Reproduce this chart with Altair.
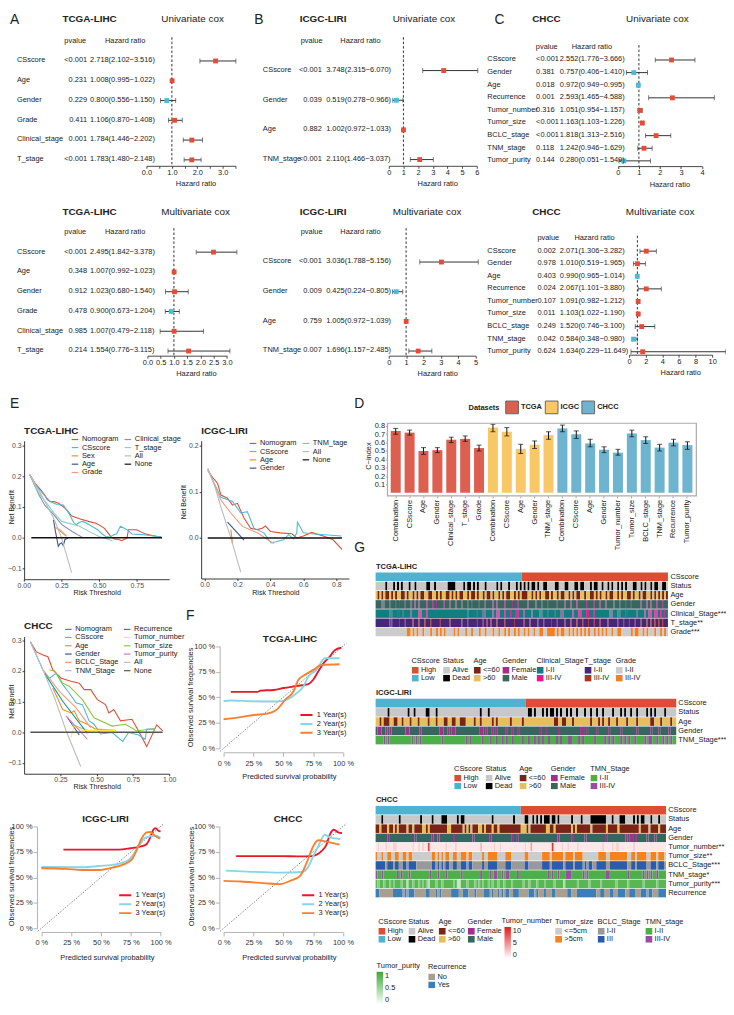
import altair as alt
import pandas as pd

W, H = 726, 999
FONT = "Liberation Sans"
RED, BLUE = "#E64B35", "#4DBBD5"
TXT = "#222222"


def P(v):
    return v - 8


# ---------- forest data ----------
A_NAMES = ["CSscore", "Age", "Gender", "Grade", "Clinical_stage", "T_stage"]
A_UNI_P = ["<0.001", "0.231", "0.229", "0.411", "0.001", "<0.001"]
A_UNI_HR = [2.718, 1.008, 0.800, 1.106, 1.784, 1.783]
A_UNI_LO = [2.102, 0.995, 0.556, 0.870, 1.446, 1.480]
A_UNI_HI = [3.516, 1.022, 1.150, 1.408, 2.202, 2.148]
A_MUL_P = ["<0.001", "0.348", "0.912", "0.478", "0.985", "0.214"]
A_MUL_HR = [2.495, 1.007, 1.023, 0.900, 1.007, 1.554]
A_MUL_LO = [1.842, 0.992, 0.680, 0.673, 0.479, 0.776]
A_MUL_HI = [3.378, 1.023, 1.540, 1.204, 2.118, 3.115]
B_NAMES = ["CSscore", "Gender", "Age", "TNM_stage"]
B_UNI_P = ["<0.001", "0.039", "0.882", "<0.001"]
B_UNI_HR = [3.748, 0.519, 1.002, 2.110]
B_UNI_LO = [2.315, 0.278, 0.972, 1.466]
B_UNI_HI = [6.070, 0.966, 1.033, 3.037]
B_MUL_P = ["<0.001", "0.009", "0.759", "0.007"]
B_MUL_HR = [3.036, 0.425, 1.005, 1.696]
B_MUL_LO = [1.788, 0.224, 0.972, 1.157]
B_MUL_HI = [5.156, 0.805, 1.039, 2.485]
C_NAMES = ["CSscore", "Gender", "Age", "Recurrence", "Tumor_number", "Tumor_size",
           "BCLC_stage", "TNM_stage", "Tumor_purity"]
C_UNI_P = ["<0.001", "0.381", "0.018", "0.001", "0.316", "<0.001", "<0.001", "0.118", "0.144"]
C_UNI_HR = [2.552, 0.757, 0.972, 2.593, 1.051, 1.163, 1.818, 1.242, 0.280]
C_UNI_LO = [1.776, 0.406, 0.949, 1.465, 0.954, 1.103, 1.313, 0.946, 0.051]
C_UNI_HI = [3.666, 1.410, 0.995, 4.588, 1.157, 1.226, 2.516, 1.629, 1.549]
C_MUL_P = ["0.002", "0.978", "0.403", "0.024", "0.107", "0.011", "0.249", "0.042", "0.624"]
C_MUL_HR = [2.071, 1.010, 0.990, 2.067, 1.091, 1.103, 1.520, 0.584, 1.634]
C_MUL_LO = [1.306, 0.519, 0.965, 1.101, 0.982, 1.022, 0.746, 0.348, 0.229]
C_MUL_HI = [3.282, 1.965, 1.014, 3.880, 1.212, 1.190, 3.100, 0.980, 11.649]

# ---------- DCA data ----------
DCA_TCGA = {
    "Nomogram": [(.04, .205), (.077, .176), (.105, .16), (.132, .144), (.155, .125), (.175, .117), (.2, .118), (.23, .112),
                 (.25, .105), (.273, .096), (.295, .085), (.316, .071), (.345, .066), (.38, .06), (.43, .053), (.478, .047),
                 (.505, .04), (.533, .031), (.555, .018), (.576, .004), (.6, -.004), (.63, -.006), (.65, -.01), (.685, -.001),
                 (.695, .026), (.75, .026), (.78, .018), (.804, .013), (.85, .007), (.89, .004), (.913, .002)],
    "CSscore": [(.04, .205), (.077, .172), (.132, .14), (.175, .118), (.22, .108), (.262, .106), (.285, .09), (.305, .074),
                (.33, .05), (.349, .042), (.37, .05), (.392, .053), (.435, .042), (.49, .026), (.52, .012), (.544, .004),
                (.575, .002), (.598, .01), (.615, .012), (.641, .037), (.685, .026), (.718, .012), (.783, .01), (.913, .002)],
    "Sex": [(.218, .031), (.25, .018), (.283, .004)],
    "Age": [(.197, .058), (.21, .02), (.229, -.028), (.24, -.02), (.251, -.017), (.262, -.026), (.273, -.006), (.294, -.001)],
    "Grade": [(.207, .034), (.24, .026), (.283, .006)],
    "Clinical_stage": [(.04, .205), (.1, .14), (.14, .105), (.19, .08), (.251, .043), (.32, .02), (.392, 0)],
    "T_stage": [(.04, .205), (.1, .145), (.153, .112), (.2, .08), (.251, .053), (.37, .037), (.44, .018), (.5, .004), (.588, -.01)],
    "All": [(.04, .205), (.12, .136), (.197, .065), (.25, .0), (.317, -.114)],
    "None": [(.05, 0), (.917, 0)],
}
DCA_ICGC = {
    "Nomogram": [(.02, .146), (.05, .131), (.08, .118), (.1, .093), (.14, .086), (.17, .071), (.2, .075), (.24, .043), (.28, .021),
                 (.32, .018), (.35, .021), (.37, .026), (.4, .014), (.46, .011), (.53, .009), (.56, 0), (.6, .004), (.65, .012),
                 (.72, .004), (.78, -.004), (.834, -.025)],
    "CSscore": [(.02, .15), (.06, .118), (.1, .088), (.17, .079), (.22, .054), (.26, .057), (.3, .021), (.36, .011), (.404, -.011),
                (.48, -.004), (.51, .007), (.54, -.002), (.56, .011), (.564, .034), (.6, .011), (.65, .009), (.83, .004)],
    "Age": [(.16, .018), (.17, -.011)],
    "Gender": [(.14, .034), (.24, -.005)],
    "TNM_tage": [(.02, .15), (.1, .082), (.16, .054), (.23, .025), (.32, .011), (.42, -.012)],
    "All": [(.02, .15), (.06, .115), (.1, .067), (.16, .0), (.22, -.074)],
    "None": [(.02, 0), (.834, 0)],
}
DCA_CHCC = {
    "Nomogram": [(.043, .295), (.084, .262), (.13, .252), (.164, .246), (.198, .203), (.255, .176), (.323, .166), (.38, .16),
                 (.414, .139), (.459, .139), (.505, .106), (.561, .09), (.584, .063), (.618, .074), (.664, .037), (.743, .042),
                 (.789, .004), (.845, -.047), (.914, .024), (.955, .004)],
    "CSscore": [(.043, .295), (.13, .203), (.175, .176), (.22, .192), (.266, .155), (.311, .128), (.357, .096), (.402, .09),
                (.448, .037), (.482, .026), (.527, -.006), (.607, -.001), (.68, -.03), (.72, -.001), (.789, -.009), (.834, -.023),
                (.845, .01), (.902, .01)],
    "Age": [(.198, .144), (.266, .074), (.323, .063), (.345, .07), (.38, .037), (.436, .026), (.493, .01), (.63, .006)],
    "Gender": [(.3, .047), (.38, -.009)],
    "BCLC_Stage": [(.13, .203), (.243, .133), (.357, .08), (.459, .015)],
    "TNM_Stage": [(.323, .026), (.448, .004)],
    "Recurrence": [(.141, .192), (.266, .101), (.436, -.004)],
    "Tumor_number": [(.323, -.017), (.345, .02), (.402, .006), (.63, .006)],
    "Tumor_size": [(.175, .203), (.21, .2), (.266, .16), (.311, .15), (.402, .106), (.482, .047), (.607, .02), (.698, .026),
                   (.777, .004), (.902, .012)],
    "Tumor_purity": [(.289, .053), (.436, -.023)],
    "All": [(.043, .295), (.13, .203), (.21, .112), (.29, .004), (.39, -.112)],
    "None": [(.043, 0), (.955, 0)],
}
TCGA_COLORS = ["#E64B35", "#4DBBD5", "#F28E2B", "#3C5488", "#F39B7F", "#8491B4", "#91D1C2", "#BBBBBB", "#111111"]
ICGC_COLORS = ["#E64B35", "#4DBBD5", "#F28E2B", "#3C5488", "#F39B7F", "#BBBBBB", "#111111"]
CHCC_COLORS = ["#E64B35", "#4DBBD5", "#F28E2B", "#3C5488", "#F39B7F", "#B0B7D4", "#00A087", "#FFE94D", "#8DC63F", "#C77CBB",
               "#BBBBBB", "#555555"]

# ---------- calibration data ----------
CAL_TCGA = {
    "1 Year(s)": [(.06, .552), (.282, .552), (.31, .565), (.42, .571), (.503, .59), (.613, .61), (.71, .629), (.751, .671), (.793, .752),
                  (.848, .848), (.89, .897), (.931, .961), (.986, .984)],
    "2 Year(s)": [(0, .461), (.06, .468), (.227, .461), (.448, .458), (.53, .477), (.613, .542), (.669, .606), (.71, .703), (.779, .768),
                  (.848, .881), (.972, .881)],
    "3 Year(s)": [(0, .284), (.144, .306), (.254, .326), (.365, .339), (.448, .381), (.517, .477), (.586, .558), (.627, .671), (.682, .719),
                  (.751, .768), (.82, .816), (.972, .823)],
}
CAL_ICGC = {
    "1 Year(s)": [(.185, .773), (.649, .773), (.746, .786), (.843, .806), (.884, .828), (.912, .887), (.939, .968), (.959, .984), (.981, .958),
                  (1, .951)],
    "2 Year(s)": [(0, .602), (.345, .599), (.483, .612), (.622, .628), (.718, .66), (.773, .725), (.815, .806), (.87, .887), (.953, .909),
                  (1, .887)],
    "3 Year(s)": [(0, .589), (.207, .583), (.345, .573), (.483, .573), (.594, .595), (.691, .628), (.76, .676), (.801, .773), (.843, .887),
                  (.884, .942), (.912, .945), (.953, .909), (.994, .88)],
}
CAL_CHCC = {
    "1 Year(s)": [(.105, .709), (.503, .709), (.613, .706), (.738, .709), (.82, .757), (.862, .822), (.89, .919), (.923, .968), (.959, .942),
                  (.992, .935)],
    "2 Year(s)": [(.017, .566), (.199, .557), (.475, .547), (.655, .553), (.71, .605), (.751, .709), (.793, .806), (.848, .919), (.903, .887),
                  (.978, .877)],
    "3 Year(s)": [(0, .466), (.144, .46), (.337, .443), (.475, .434), (.558, .466), (.641, .515), (.696, .644), (.751, .806), (.793, .864),
                  (.848, .854), (.972, .822)],
}
DIAGONAL = [-0.03, 1.03]

# ---------- C-index data ----------
D_GROUP = ["TCGA"] * 7 + ["ICGC"] * 5 + ["CHCC"] * 10
D_NAMES = ["Combination", "CSscore", "Age", "Gender", "Clinical_stage", "T_stage", "Grade",
           "Combination", "CSscore", "Age", "Gender", "TNM_stage",
           "Combination", "CSscore", "Age", "Gender", "Tumor_number", "Tumor_size", "BCLC_stage", "TNM_stage", "Recurrence", "Tumor_purity"]
D_VALUE = [.74, .72, .50, .51, .635, .645, .535, .78, .73, .525, .575, .69, .77, .70, .59, .515, .48, .71, .63, .54, .60, .57]
D_LOW = [.70, .69, .46, .48, .60, .615, .50, .73, .68, .47, .53, .64, .73, .65, .55, .48, .45, .67, .59, .50, .56, .52]
D_HIGH = [.77, .75, .54, .54, .665, .68, .57, .82, .78, .58, .62, .73, .81, .74, .64, .55, .52, .75, .67, .58, .64, .61]

# ---------- heatmap data: positions (of 150 slots) holding the less common class ----------
SLOTS = 150
N = SLOTS * 2
T_STATUS = [5, 9, 11, 13, 17, 20, 26, 27, 30, 37, 38, 39, 40, 45, 47, 48, 50, 52, 56, 62, 64, 68, 72, 74, 76, 78, 80, 81, 83, 86, 87, 92, 93,
            97, 98, 102, 103, 105, 106, 110, 112, 113, 116, 119, 121, 124, 126, 128, 132, 133, 136, 138, 141, 143, 144, 147, 148]
T_AGE = [1, 3, 5, 6, 8, 10, 13, 14, 16, 19, 21, 23, 24, 27, 28, 31, 33, 36, 37, 39, 41, 43, 44, 47, 49, 50, 52, 55, 57, 58, 60, 63, 65, 67, 68,
         71, 73, 75, 76, 77, 80, 82, 84, 87, 88, 90, 93, 95, 96, 99, 101, 103, 104, 107, 110, 111, 113, 115, 118, 120, 121, 124, 126, 129,
         130, 132, 135, 137, 138, 141, 143, 145, 147, 149]
T_GENDER = [3, 4, 7, 10, 12, 15, 18, 20, 22, 26, 29, 31, 35, 38, 41, 44, 47, 49, 53, 56, 60, 62, 66, 70, 73, 78, 82, 85, 88, 93, 97, 100, 103,
            108, 112, 115, 118, 122, 125, 128, 131, 136, 139, 141, 144, 147]
T_CLIN = [7, 8, 11, 12, 14, 18, 22, 23, 26, 47, 52, 55, 56, 60, 62, 63, 66, 69, 72, 73, 76, 80, 84, 85, 88, 92, 95, 96, 101, 104, 105, 108, 109,
          112, 120, 121, 124, 125, 128, 129, 134, 138, 140, 141, 143, 144, 146, 148]
T_TSTAGE = [7, 8, 12, 15, 19, 22, 25, 28, 33, 38, 44, 47, 52, 55, 57, 59, 62, 66, 71, 76, 79, 83, 86, 90, 93, 97, 100, 103, 106, 109, 112, 115,
            119, 124, 127, 130, 133, 136, 139, 141, 143, 145, 147]
T_GRADE = [16, 17, 19, 21, 24, 28, 31, 33, 35, 40, 42, 46, 49, 53, 56, 60, 63, 66, 68, 71, 73, 76, 78, 81, 84, 85, 88, 89, 90, 91, 93, 95, 96,
           99, 101, 103, 105, 107, 109, 112, 114, 116, 118, 121, 124, 125, 131, 133, 134, 137, 139, 143, 146, 148]

I_STATUS = [6, 16, 19, 25, 26, 30, 52, 56, 76, 77, 79, 83, 85, 87, 88, 90, 92, 95, 97, 100, 104, 107, 110, 113, 118, 122, 124, 127, 130, 135,
            137, 139, 144]
I_AGE = [2, 4, 5, 6, 9, 10, 13, 17, 21, 26, 30, 34, 35, 38, 39, 42, 43, 44, 49, 52, 58, 60, 67, 73, 89, 90, 93, 94, 98, 107, 111, 113, 116, 120,
         125, 130, 137, 138, 142, 147]
I_GENDER = [1, 2, 5, 7, 15, 16, 22, 32, 33, 36, 38, 39, 52, 53, 55, 58, 60, 65, 68, 71, 82, 85, 91, 102, 103, 105, 110, 116, 122, 130, 137, 141,
            146]
I_TNM = [4, 6, 18, 20, 22, 33, 45, 47, 53, 57, 60, 63, 65, 68, 73, 76, 79, 81, 83, 86, 90, 92, 96, 97, 101, 103, 109, 114, 116, 118, 122, 124,
         126, 129, 134, 136, 137, 140, 143, 145, 147]

C_STATUS = [3, 12, 23, 29, 34, 35, 36, 42, 44, 45, 60, 71, 77, 78, 81, 83, 85, 87, 88, 89, 91, 92, 94, 101, 106, 111, 112, 113, 114, 115, 116, 117,
            118, 122, 126, 127, 128, 133, 135, 137, 138, 142, 146]
C_AGE = [2, 6, 9, 11, 16, 19, 24, 25, 27, 37, 38, 45, 47, 49, 53, 54, 56, 60, 63, 75, 76, 77, 79, 88, 89, 92, 101, 103, 111, 119, 125, 136, 141,
         146]
C_GENDER = [6, 20, 29, 32, 40, 50, 59, 70, 73, 94, 101, 108, 119, 129, 131, 132, 134, 140, 144]
C_NUM_IDX = [1, 5, 9, 10, 19, 22, 24, 27, 36, 41, 54, 61, 64, 77, 80, 91, 96, 99, 104, 117, 122, 124, 125, 133]
C_NUM_VAL = [2, 2, 2, 2, 2, 2, 2, 8, 2, 2, 3, 2, 2, 2, 4, 9, 2, 2, 2, 2, 2, 2, 2, 2]
C_SIZE = [0, 3, 6, 7, 10, 11, 14, 15, 17, 18, 29, 30, 32, 34, 36, 37, 40, 41, 44, 45, 46, 48, 49, 55, 58, 59, 60, 61, 62, 67, 68, 69, 77, 78, 86,
          87, 88, 89, 91, 92, 93, 94, 95, 96, 98, 99, 100, 101, 103, 104, 105, 106, 115, 116, 117, 118, 121, 122, 123, 124, 125, 126, 127,
          128, 129, 132, 133, 135, 136, 137, 138, 139, 142, 143, 144, 146, 147, 148]
C_BCLC = [5, 9, 12, 13, 16, 21, 22, 23, 24, 25, 26, 27, 28, 31, 33, 35, 38, 39, 42, 43, 47, 50, 51, 52, 53, 54, 56, 57, 63, 64, 65, 66, 70, 71, 72,
          73, 74, 75, 76, 79, 80, 81, 82, 83, 84, 85, 90, 97, 102, 107, 109, 112, 113, 119, 120, 130, 131, 134, 140, 141, 145, 149]
C_TNM = [0, 3, 11, 13, 17, 28, 32, 36, 44, 54, 59, 61, 62, 65, 67, 68, 73, 89, 91, 94, 98, 99, 100, 107, 109, 119, 120, 130, 138, 140, 142, 145]
C_PUR_IDX = [1, 4, 7, 9, 13, 16, 19, 22, 24, 26, 27, 31, 34, 40, 42, 43, 47, 51, 53, 55, 58, 60, 63, 66, 70, 76, 79, 83, 87, 92, 97, 104, 110,
             116, 124, 130, 138, 145]
C_PUR_VAL = [.6, .6, .6, .6, .6, .35, .6, .6, .6, .6, .35, .6, .6, .6, .3, .3, .6, .6, .6, .6, .6, .6, .6, .6, .6, .6, .6, .6, .6, .6, .4, .6, .6,
             .6, .6, .6, .6, .6]
C_REC = [0, 1, 9, 10, 11, 12, 13, 15, 17, 18, 19, 26, 27, 31, 33, 39, 40, 41, 42, 45, 46, 47, 51, 56, 57, 58, 60, 63, 65, 67, 68, 71, 72, 73, 79,
         80, 81, 83, 87, 91, 92, 99, 100, 104, 105, 106, 107, 108, 109, 110, 111, 112, 113, 116, 117, 121, 122, 125, 126, 127, 128, 131, 132,
         133, 137, 138, 139, 141, 142, 146, 147, 148, 149]


def T(text, x, y, size=7.5, weight="normal", align="left", color=TXT):
    return alt.Chart(alt.InlineData(values=[{"t": text}])).mark_text(
        align=align, baseline="middle", fontSize=size, fontWeight=weight, color=color, font=FONT
    ).encode(x=alt.value(P(x)), y=alt.value(P(y)), text="t:N")


def xaxis(ay, title=None, tx=0, ty=0, fs=7.5, color=TXT, dom="#333333", tick=2.5, pad=0, tfs=7.5, **kw):
    d = dict(orient="bottom", offset=P(ay) - H, grid=False, labelFontSize=fs, labelColor=color, domainColor=dom, tickColor=dom,
             tickSize=tick, labelPadding=pad, labelOverlap=False, labelFlush=False, domainWidth=0.9, tickWidth=0.9)
    if title:
        d.update(title=title, titleX=P(tx), titleY=ty - ay, titleFontSize=tfs, titleFontWeight="normal", titleColor=TXT,
                 titleBaseline="middle", titleAlign="center", titleAngle=0)
    else:
        d.update(title=None)
    d.update(kw)
    return alt.Axis(**d)


def yaxis(ax, title=None, tx=0, ty=0, fs=7.5, color=TXT, dom="#333333", tick=2.5, pad=1, tfs=7.5, **kw):
    d = dict(orient="left", offset=-P(ax), grid=False, labelFontSize=fs, labelColor=color, domainColor=dom, tickColor=dom,
             tickSize=tick, labelPadding=pad, labelOverlap=False, labelFlush=False, domainWidth=0.9, tickWidth=0.9)
    if title:
        d.update(title=title, titleX=tx - ax, titleY=P(ty), titleFontSize=tfs, titleFontWeight="normal", titleColor=TXT,
                 titleBaseline="middle", titleAlign="center", titleAngle=270)
    else:
        d.update(title=None)
    d.update(kw)
    return alt.Axis(**d)


def forest(names, pv, hr, lo, hi, dom, rng, ticks, label_expr, ay, ry, dash, cols, p_align, heads, tcenter):
    df = pd.DataFrame({"name": names, "p": pv, "hr": hr, "lo": lo, "hi": hi})
    df["txt"] = [f"{a:.3f}({b:.3f}\u2212{c:.3f})" for a, b, c in zip(hr, lo, hi)]
    xs = alt.Scale(domain=dom, range=[P(rng[0]), P(rng[1])], nice=False, zero=False)
    ys = alt.Scale(type="point", domain=names, range=[P(ry[0]), P(ry[1])], padding=0)
    ax = xaxis(ay, "Hazard ratio", tcenter, ay + 18.4, values=ticks, labelExpr=label_expr)
    Y = alt.Y("name:N", scale=ys, axis=None, sort=None)
    base = alt.Chart(df)
    x_hr = alt.X("hr:Q", scale=xs, axis=ax)
    layers = [
        alt.Chart(pd.DataFrame({"v": [1.0]})).mark_rule(strokeDash=[2.5, 2], color="#333333", strokeWidth=1).encode(
            x=alt.X("v:Q", scale=xs, axis=ax), y=alt.value(P(dash[0])), y2=alt.value(P(dash[1]))),
        base.mark_rule(color="#333333", strokeWidth=1).encode(x=alt.X("lo:Q", scale=xs, axis=ax), x2="hi:Q", y=Y),
        base.mark_tick(orient="vertical", size=5, thickness=0.9, color="#333333").encode(x=alt.X("lo:Q", scale=xs, axis=ax), y=Y),
        base.mark_tick(orient="vertical", size=5, thickness=0.9, color="#333333").encode(x=alt.X("hi:Q", scale=xs, axis=ax), y=Y),
        base.mark_square(size=24, opacity=1).encode(
            x=x_hr, y=Y, color=alt.condition("datum.hr < 1", alt.value(BLUE), alt.value(RED))),
        base.mark_text(align="left", baseline="middle", fontSize=7.5, color=TXT, dy=-0.6).encode(
            x=alt.value(P(cols[0])), y=Y, text="name:N"),
        base.mark_text(align=p_align, baseline="middle", fontSize=7.5, color=TXT, dy=-0.6).encode(
            x=alt.value(P(cols[1])), y=Y, text="p:N"),
        base.mark_text(align="left", baseline="middle", fontSize=7.5, color=TXT, dy=-0.6).encode(
            x=alt.value(P(cols[2])), y=Y, text="txt:N"),
    ]
    return alt.layer(*layers), [T("pvalue", heads[0], heads[2]), T("Hazard ratio", heads[1], heads[2])]


def tidy(series):
    rows = []
    for s, pts in series.items():
        for i, (a, b) in enumerate(pts):
            rows.append({"s": s, "x": a, "y": b, "o": i})
    return pd.DataFrame(rows)


def line_panel(series, colors, xs, ys, xax, yax, leg, width, none_name="None"):
    df = tidy(series)
    names = list(series.keys())
    color = alt.Color("s:N", scale=alt.Scale(domain=names, range=colors), legend=leg)
    X = alt.X("x:Q", scale=xs, axis=xax)
    Y = alt.Y("y:Q", scale=ys, axis=yax)
    main = alt.Chart(df[df.s != none_name]).mark_line(strokeWidth=width).encode(x=X, y=Y, color=color, order="o:Q")
    none = alt.Chart(df[df.s == none_name]).mark_line(strokeWidth=1.5).encode(x=X, y=Y, color=color, order="o:Q")
    return alt.layer(main, none)


def dca(series, colors, dom_x, rng_x, dom_y, rng_y, ay, ax, xticks, xfmt, yticks, tx, ty_t, ty, ty_x, leg_xy, title_pad):
    xs = alt.Scale(domain=dom_x, range=[P(rng_x[0]), P(rng_x[1])], nice=False, zero=False)
    ys = alt.Scale(domain=dom_y, range=[P(rng_y[0]), P(rng_y[1])], nice=False, zero=False)
    xa = xaxis(ay, "Risk Threshold", tx, ty_x, fs=7, color="#4D4D4D", dom="#222222", tick=2, pad=0, values=xticks, format=xfmt, tfs=7.2)
    ya = yaxis(ax, "Net Benefit", title_pad, ty, fs=7, color="#4D4D4D", dom="#222222", tick=2, pad=1, values=yticks, format=".1f", tfs=7)
    leg = alt.Legend(orient="none", legendX=P(leg_xy[0]), legendY=P(leg_xy[1]), title=None, columns=2, symbolType="stroke",
                     symbolSize=44, symbolStrokeWidth=1.2, labelFontSize=7.5, labelColor=TXT, rowPadding=0.4, columnPadding=2.5,
                     labelOffset=3, padding=0, labelLimit=0)
    return line_panel(series, colors, xs, ys, xa, ya, leg, 1.1)


def calib(series, rng_x, ay, ax, tx_y, ty_y, tx_x, ty_x, leg_xy):
    xs = alt.Scale(domain=[0, 1], range=[P(rng_x[0]), P(rng_x[1])], nice=False, zero=False)
    ys = alt.Scale(domain=[0, 1], range=[P(ay[1]), P(ay[2])], nice=False, zero=False)
    expr = "round(datum.value*100) + ' %'"
    tv = [0, .25, .5, .75, 1]
    xa = xaxis(ay[0], "Predicted survival probability", tx_x, ty_x, fs=7.5, color="#333333", dom="#AAAAAA", tick=4, pad=3, values=tv,
               labelExpr=expr)
    ya = yaxis(ax, "Observed survival frequencies", tx_y, ty_y, fs=7.5, color="#333333", dom="#AAAAAA", tick=4, pad=1, values=tv,
               labelExpr=expr)
    df = tidy(series)
    names = list(series.keys())
    leg = alt.Legend(orient="none", legendX=P(leg_xy[0]), legendY=P(leg_xy[1]), title=None, symbolType="stroke", symbolSize=150,
                     symbolStrokeWidth=2, labelFontSize=7.5, labelColor=TXT, rowPadding=0, clipHeight=7.7, labelOffset=3, padding=0)
    diag = pd.DataFrame({"x": DIAGONAL, "y": DIAGONAL})
    return alt.layer(
        alt.Chart(diag).mark_line(strokeDash=[1.5, 1.5], strokeWidth=0.7, color="#555555").encode(
            x=alt.X("x:Q", scale=xs, axis=xa), y=alt.Y("y:Q", scale=ys, axis=ya)),
        alt.Chart(df).mark_line(strokeWidth=1.9, interpolate="monotone").encode(
            x=alt.X("x:Q", scale=xs, axis=xa), y=alt.Y("y:Q", scale=ys, axis=ya), order="o:Q",
            color=alt.Color("s:N", scale=alt.Scale(domain=names, range=["#E41A2C", "#87D5E8", "#F97F2D"]), legend=leg)),
    )


def expand(default, other, idx, w=2):
    vals = [default] * N
    for i in idx:
        for k in range(w):
            vals[2 * i + k] = other
    return vals


def numeric(default, idx, val):
    vals = [default] * N
    for i, v in zip(idx, val):
        vals[2 * i] = v
        vals[2 * i + 1] = v
    return vals


def runs(row, vals):
    out = []
    s = 0
    for i in range(1, N + 1):
        if i == N or vals[i] != vals[s]:
            out.append({"row": row, "s": s, "e": i, "v": vals[s]})
            s = i
    return pd.DataFrame(out)


def sym_legend(title, x, y, hgap=2):
    return alt.Legend(orient="none", legendX=P(x), legendY=P(y), title=title, titleFontSize=7.5, titleFontWeight="normal", titleColor=TXT,
                      titlePadding=2.7, labelFontSize=7.5, labelColor=TXT, symbolType="square", symbolSize=46, symbolStrokeWidth=0,
                      rowPadding=0, clipHeight=6.8, labelOffset=hgap, padding=0)


def grad_legend(x, y, length, values, fmt):
    d = dict(orient="none", legendX=P(x), legendY=P(y), title=None, labelFontSize=7.5, labelColor=TXT, gradientLength=length,
             gradientThickness=6.5, values=values, padding=0, labelOffset=2, direction="vertical", gradientStrokeWidth=0, format=fmt)
    return alt.Legend(**d)


def heat(rows, xr, yr, label_x):
    labels = [r[0] for r in rows]
    xs = alt.Scale(domain=[0, N], range=[P(xr[0]), P(xr[1])], nice=False, zero=False)
    ys = alt.Scale(type="band", domain=labels, range=[P(yr[0]), P(yr[1])], paddingInner=0.07, paddingOuter=0)
    ya = alt.Axis(orient="right", offset=P(label_x) - W, title=None, ticks=False, domain=False, labelFontSize=7.5, labelColor=TXT,
                  labelPadding=0, labelLimit=0, grid=False, labelOverlap=False, labelFlush=False)
    layers = []
    for label, vals, scale, legend, kind in rows:
        layers.append(alt.Chart(runs(label, vals)).mark_rect().encode(
            x=alt.X("s:Q", scale=xs, axis=None), x2="e:Q", y=alt.Y("row:N", scale=ys, axis=ya, sort=None),
            color=alt.Color(f"v:{kind}", scale=scale, legend=legend)))
    return alt.layer(*layers).resolve_scale(color="independent")


def cat(domain, colors):
    return alt.Scale(domain=domain, range=colors)


SC_CS = cat(["High", "Low"], ["#DE4D33", "#4DB3D0"])
SC_ST = cat(["Alive", "Dead"], ["#C8C8C8", "#000000"])
SC_AGE = cat(["<=60", ">60"], ["#7A2418", "#E2C05A"])
SC_GEN = cat(["Female", "Male"], ["#A2308A", "#37665F"])

LOWHIGH = ["Low"] * (N // 2) + ["High"] * (N // 2)

# ---------- assemble ----------
parts = []
extras = []
specs = [
    (A_NAMES, A_UNI_P, A_UNI_HR, A_UNI_LO, A_UNI_HI, [0, 3.5], (148, 238), [0, .5, 1, 1.5, 2, 2.5, 3, 3.5],
     "datum.value % 1 == 0 ? format(datum.value, '.1f') : ''", 162, (56, 156), (32, 162), (17, 88, 91), "right", (65, 106, 36), 197.6),
    (A_NAMES, A_MUL_P, A_MUL_HR, A_MUL_LO, A_MUL_HI, [0, 3], (149, 229.3), [0, .5, 1, 1.5, 2, 2.5, 3],
     "format(datum.value, '.1f')", 354, (249.3, 349.3), (225, 354), (17, 88, 91), "right", (65, 106, 229), 198),
    (B_NAMES, B_UNI_P, B_UNI_HR, B_UNI_LO, B_UNI_HI, [0, 6], (393, 482), [0, 1, 2, 3, 4, 5, 6],
     "format(datum.value, 'd')", 162, (65.7, 155.7), (32, 162), (265.7, 325.3, 329.7), "right", (304, 344, 36), 442),
    (B_NAMES, B_MUL_P, B_MUL_HR, B_MUL_LO, B_MUL_HI, [0, 5], (393, 480.7), [0, 1, 2, 3, 4, 5],
     "format(datum.value, 'd')", 354, (259.3, 349.3), (225, 354), (265.7, 325.3, 329.7), "right", (304, 344, 229), 442),
    (C_NAMES, C_UNI_P, C_UNI_HR, C_UNI_LO, C_UNI_HI, [0, 4], (624.7, 709.7), [0, 1, 2, 3, 4],
     "format(datum.value, 'd')", 162.3, (55, 157), (40, 162.3), (492.7, 542, 566), "left", (541.7, 578, 42), 676.7),
    (C_NAMES, C_MUL_P, C_MUL_HR, C_MUL_LO, C_MUL_HI, [0, 10], (636, 720), [0, 2, 4, 6, 8, 10],
     "format(datum.value, 'd')", 353, (248.3, 350), (232.7, 353), (492.7, 543.3, 566), "left", (543.3, 580.7, 235), 687.7),
]
for sp in specs:
    ch, ex = forest(*sp)
    parts.append(ch)
    extras += ex

extras += [
    T("A", 10, 15, 14), T("B", 257, 15, 14), T("C", 500, 15, 14), T("E", 10, 403, 14), T("D", 358, 403, 14), T("G", 358, 549, 14),
    T("F", 188, 617, 14),
    T("TCGA-LIHC", 63, 13.5, 10, "bold"), T("Univariate cox", 163, 14, 10),
    T("ICGC-LIRI", 303, 13.5, 10, "bold"), T("Univariate cox", 397, 14, 10),
    T("CHCC", 538, 13.5, 10, "bold"), T("Univariate cox", 633, 14, 10),
    T("TCGA-LIHC", 63, 209, 10, "bold"), T("Multivariate cox", 163, 209, 10),
    T("ICGC-LIRI", 303, 209, 10, "bold"), T("Multivariate cox", 397, 209, 10),
    T("CHCC", 538, 209, 10, "bold"), T("Multivariate cox", 632.7, 209, 10),
    T("TCGA-LIHC", 24.3, 430, 10, "bold"), T("ICGC-LIRI", 203.3, 430, 10, "bold"), T("CHCC", 24.3, 627, 10, "bold"),
    T("TCGA-LIHC", 265.7, 640.7, 10, "bold"), T("ICGC-LIRI", 83, 822.7, 10, "bold"), T("CHCC", 276.7, 822.7, 10, "bold"),
    T("TCGA-LIHC", 380, 567.7, 7.6, "bold"), T("ICGC-LIRI", 380, 695.3, 7.6, "bold"), T("CHCC", 380, 803.7, 7.6, "bold"),
    T("Tumor_number", 507, 925.7), T("Tumor_purity", 380.7, 971.3),
]

parts.append(dca(DCA_TCGA, TCGA_COLORS, [0, .965], (24, 171), [-.1355, .316], (580, 440), 580, 24.3, [0, .25, .5, .75], ".2f",
                 [-.1, 0, .1, .2, .3], 97.7, 0, 506.7, 593.3, (71.7, 434.5), 11.7))
parts.append(dca(DCA_ICGC, ICGC_COLORS, [-.02, .876], (203.3, 352.7), [-.088, .2107], (579.3, 440), 579.3, 203.3,
                 [0, .2, .4, .6, .8], ".1f", [0, .1, .2], 278.3, 0, 501.7, 593.3, (251.7, 438.5), 185))
parts.append(dca(DCA_CHCC, CHCC_COLORS, [0, 1], (24.3, 171), [-.1355, .312], (776.7, 638), 776.7, 24.3, [.25, .5, .75, 1], ".2f",
                 [-.1, 0, .1, .2, .3], 97.7, 0, 703.3, 790, (65, 626.5), 11.7))

parts.append(calib(CAL_TCGA, (226, 346.7), (755, 751, 647.7), 222, 193, 699, 292, 780, (302.3, 713.5)))
parts.append(calib(CAL_ICGC, (41.7, 162.3), (936.7, 933, 830), 37.3, 12, 880, 108, 962.3, (119, 895.8)))
parts.append(calib(CAL_CHCC, (226, 346.7), (936.7, 933, 830), 221.7, 194, 880, 292, 962.3, (304, 895.8)))

# C-index bars
d_keys = [f"{g}{i}|{n}" for i, (g, n) in enumerate(zip(D_GROUP, D_NAMES))]
d_df = pd.DataFrame({"key": d_keys, "group": D_GROUP, "v": D_VALUE, "lo": D_LOW, "hi": D_HIGH})
d_xs = alt.Scale(type="band", domain=d_keys, range=[P(393), P(702)], paddingInner=0.28, paddingOuter=0.14)
d_ys = alt.Scale(domain=[-.037, .832], range=[P(495.7), P(422.3)], nice=False, zero=False)
d_xa = xaxis(495.7, None, fs=7.5, color=TXT, dom="#999999", tick=2, pad=1.5, labelAngle=270, labelAlign="right", labelBaseline="middle",
             labelExpr="split(datum.label, '|')[1]", labelLimit=0, domain=False)
d_ya = yaxis(391.7, "C\u2212index", 373, 455, fs=7.5, color=TXT, dom="#999999", tick=2, pad=1, values=[.1, .2, .3, .4, .5, .6, .7, .8],
             format=".1f", domain=False)
d_leg = alt.Legend(orient="none", legendX=P(473.7), legendY=P(399), title="Datasets", titleOrient="left", titleFontSize=7.5,
                   titleFontWeight="bold", titleColor=TXT, titlePadding=5, direction="horizontal", columns=3, symbolType="square",
                   symbolSize=165, symbolStrokeColor="#666666", symbolStrokeWidth=1, labelFontSize=7.5, labelFontWeight="bold",
                   labelColor=TXT, columnPadding=0, labelOffset=2, padding=0)
D_X = alt.X("key:N", scale=d_xs, axis=d_xa, sort=None)
parts.append(alt.layer(
    alt.Chart(d_df).mark_bar().encode(
        x=D_X, y=alt.Y("v:Q", scale=d_ys, axis=d_ya), y2=alt.datum(0),
        color=alt.Color("group:N", scale=cat(["TCGA", "ICGC", "CHCC"], ["#DC5F50", "#F9C866", "#6EB4CE"]), legend=d_leg)),
    alt.Chart(d_df).mark_rule(color="#111111", strokeWidth=1).encode(x=D_X, y=alt.Y("lo:Q", scale=d_ys, axis=d_ya), y2="hi:Q"),
    alt.Chart(d_df).mark_tick(orient="horizontal", size=5, thickness=1, color="#111111").encode(x=D_X, y=alt.Y("lo:Q", scale=d_ys, axis=d_ya)),
    alt.Chart(d_df).mark_tick(orient="horizontal", size=5, thickness=1, color="#111111").encode(x=D_X, y=alt.Y("hi:Q", scale=d_ys, axis=d_ya)),
    alt.Chart(pd.DataFrame({"a": [-.037], "b": [.832]})).mark_rect(fill=None, stroke="#AAAAAA", strokeWidth=1.2).encode(
        y=alt.Y("a:Q", scale=d_ys, axis=d_ya), y2="b:Q", x=alt.value(P(391.7)), x2=alt.value(P(704))),
))

# heat maps
parts.append(heat([
    ("CSscore", LOWHIGH, SC_CS, sym_legend("CSscore", 416, 658.5), "N"),
    ("Status", expand("Alive", "Dead", T_STATUS), SC_ST, sym_legend("Status", 447.7, 658.5), "N"),
    ("Age", expand(">60", "<=60", T_AGE), SC_AGE, sym_legend("Age", 478.7, 658.5), "N"),
    ("Gender", expand("Male", "Female", T_GENDER, 1), SC_GEN, sym_legend("Gender", 507.7, 658.5), "N"),
    ("Clinical_Stage***", expand("I-II", "III-IV", T_CLIN, 1), cat(["I-II", "III-IV"], ["#117F7F", "#E6168F"]),
     sym_legend("Clinical_Stage", 542.3, 658.5), "N"),
    ("T_stage**", expand("I-II", "III-IV", T_TSTAGE, 1), cat(["I-II", "III-IV"], ["#45277A", "#AA3322"]),
     sym_legend("T_stage", 590.7, 658.5), "N"),
    ("Grade***", expand("I-II", "III-IV", T_GRADE), cat(["I-II", "III-IV"], ["#CCCCCC", "#F5801F"]),
     sym_legend("Grade", 622.3, 658.5), "N"),
], (379.7, 675.3), (573.3, 637.7), 677.3))

parts.append(heat([
    ("CSscore", LOWHIGH, SC_CS, sym_legend("CSscore", 459, 767.5), "N"),
    ("Status", expand("Alive", "Dead", I_STATUS), SC_ST, sym_legend("Status", 490.7, 767.5), "N"),
    ("Age", expand(">60", "<=60", I_AGE), SC_AGE, sym_legend("Age", 525, 767.5), "N"),
    ("Gender", expand("Male", "Female", I_GENDER), SC_GEN, sym_legend("Gender", 556.7, 767.5), "N"),
    ("TNM_Stage***", expand("I-II", "III-IV", I_TNM), cat(["I-II", "III-IV"], ["#4DAF4A", "#984EA3"]),
     sym_legend("TMN_Stage", 596.7, 767.5), "N"),
], (379.7, 683.7), (701, 747), 685.3))

parts.append(heat([
    ("CSscore", LOWHIGH, SC_CS, sym_legend("CSscore", 382.3, 922.5), "N"),
    ("Status", expand("Alive", "Dead", C_STATUS), SC_ST, sym_legend("Status", 412.7, 922.5), "N"),
    ("Age", expand("<=60", ">60", C_AGE), SC_AGE, sym_legend("Age", 443.3, 922.5), "N"),
    ("Gender", expand("Male", "Female", C_GENDER), SC_GEN, sym_legend("Gender", 472.7, 922.5), "N"),
    ("Tumor_number**", numeric(1, C_NUM_IDX, C_NUM_VAL), alt.Scale(domain=[0, 10], range=["#FFFFFF", "#E41A1C"], interpolate="rgb"),
     grad_legend(510, 931.7, 32, [0, 5, 10], "d"), "Q"),
    ("Tumor_size**", expand("<=5cm", ">5cm", C_SIZE), cat(["<=5cm", ">5cm"], ["#CCCCCC", "#F58220"]),
     sym_legend("Tumor_size", 561, 922.5), "N"),
    ("BCLC_Stage***", expand("III", "I-II", C_BCLC), cat(["I-II", "III"], ["#999999", "#2A5CAA"]),
     sym_legend("BCLC_Stage", 604, 922.5), "N"),
    ("TNM_stage*", expand("I-II", "III-IV", C_TNM), cat(["I-II", "III-IV"], ["#4DAF4A", "#984EA3"]),
     sym_legend("TMN_stage", 652.3, 922.5), "N"),
    ("Tumor_purity***", numeric(.85, C_PUR_IDX, C_PUR_VAL), alt.Scale(domain=[0, 1], range=["#FFFFFF", "#3BAA35"], interpolate="rgb"),
     grad_legend(380.7, 977, 33, [0, .5, 1], "~g"), "Q"),
    ("Recurrence", expand("No", "Yes", C_REC), cat(["No", "Yes"], ["#A89F91", "#3B7EB8"]),
     sym_legend("Recurrence", 432.7, 968.5), "N"),
], (379.7, 673.3), (809.3, 901.7), 675))

chart = alt.layer(*parts, *extras).resolve_scale(x="independent", y="independent", color="independent").properties(
    width=W, height=H, autosize=alt.AutoSizeParams(type="none"), padding=0
).configure(font=FONT).configure_view(stroke=None)

chart.save("out.html", embed_options={"renderer": "svg", "actions": False})
